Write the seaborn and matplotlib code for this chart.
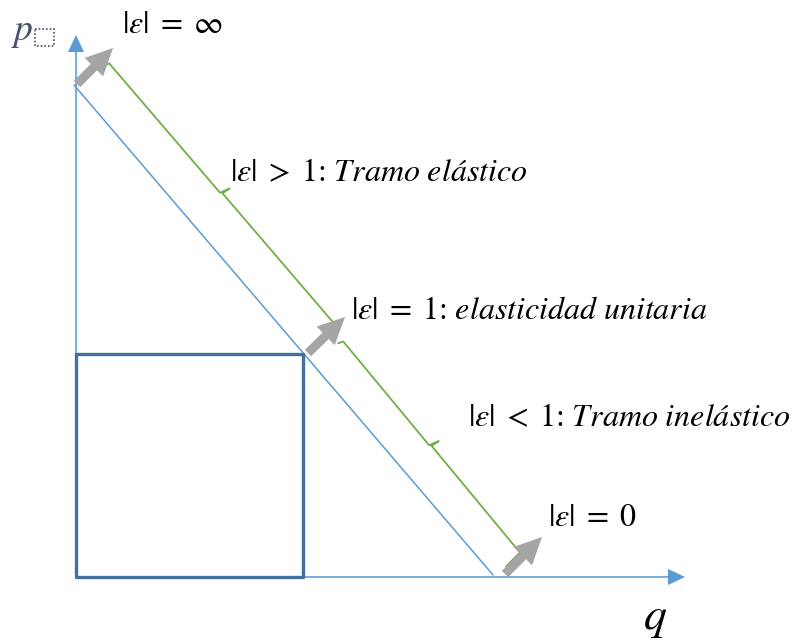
import numpy as np
import pandas as pd
import matplotlib
matplotlib.use("Agg")
import matplotlib.pyplot as plt
from matplotlib.patches import FancyArrow, Rectangle
import seaborn as sns

sns.set_theme(style="white")
plt.rcParams['mathtext.fontset'] = 'stix'
plt.rcParams['font.family'] = ['STIXGeneral', 'DejaVu Serif']

# ---- diagram data (canvas units, y grows downward) ----
origin = (76, 577)
y_axis_top = (76, 35)
x_axis_end = (685, 577)
demand_x = [74, 493]
demand_y = [85, 575]
box_x = [76, 303, 303, 76, 76]
box_y = [354, 354, 577, 577, 354]
brace_upper = [(108, 62), (336, 328)]
brace_lower = [(342, 340), (520, 555)]
arrow_tails = [(77, 84), (308, 353), (505, 574)]
arrow_tips = [(113, 48), (345, 317), (542, 537)]
labels = [
    r"|$\varepsilon$|$\;=\;\infty$",
    r"|$\varepsilon$|$\;>\;$1: $\mathit{Tramo\ elástico}$",
    r"|$\varepsilon$|$\;=\;$1: $\mathit{elasticidad\ unitaria}$",
    r"|$\varepsilon$|$\;<\;$1: $\mathit{Tramo\ inelástico}$",
    r"|$\varepsilon$|$\;=\;$0",
]
label_pos = [(122, 33), (230, 181), (351, 319), (468, 426), (548, 526)]

AXIS = "#5B9BD5"
GREEN = "#70AD47"
BOX = "#41719C"
GRAY = "#A5A5A5"

fig = plt.figure(figsize=(7.94, 6.43), dpi=100)
ax = fig.add_axes([0, 0, 1, 1])
ax.set_xlim(0, 794)
ax.set_ylim(643, 0)
ax.axis("off")

# axes with arrowheads
for start, end in [(origin, y_axis_top), (origin, x_axis_end)]:
    ax.add_patch(FancyArrow(start[0], start[1], end[0] - start[0], end[1] - start[1],
                            width=1.6, head_width=16, head_length=17,
                            length_includes_head=True, color=AXIS, lw=0, zorder=2))

# demand line
sns.lineplot(x=demand_x, y=demand_y, sort=False, estimator=None, color=AXIS, lw=1.1, ax=ax)

# rectangle
sns.lineplot(x=box_x, y=box_y, sort=False, estimator=None, color=BOX, lw=2.4, ax=ax)


def brace_points(A, B, tick=10, hook=5, end_hook=5):
    A = np.array(A, float)
    B = np.array(B, float)
    u = (B - A) / np.linalg.norm(B - A)
    n = np.array([-u[1], u[0]])
    if n[0] < 0:
        n = -n  # outward: upper-right
    M = (A + B) / 2
    pts = [A - n * hook, A + u * 2, M - u * 3, M + n * tick,
           M - u * 1 + n * 1.5, M + u * 3 + n * 1.5, B - u * 2 + n * 1.5, B - n * end_hook]
    pts = np.array(pts)
    return pts[:, 0], pts[:, 1]


for (A, B), eh in zip([brace_upper, brace_lower], [5, 18]):
    bx, by = brace_points(A, B, end_hook=eh)
    sns.lineplot(x=bx, y=by, sort=False, estimator=None, color=GREEN, lw=1.3, ax=ax)

# fat gray arrows
for (tx, ty), (hx, hy) in zip(arrow_tails, arrow_tips):
    ax.add_patch(FancyArrow(tx, ty, hx - tx, hy - ty, width=9, head_width=26,
                            head_length=27, length_includes_head=True,
                            color=GRAY, lw=0, zorder=5))

for txt, (x, y) in zip(labels, label_pos):
    ax.text(x, y, txt, fontsize=23, color="black", ha="left", va="baseline")

# axis labels
ax.text(11, 40, r"$p$", fontsize=27, color="#44546A", ha="left", va="baseline")
ax.add_patch(Rectangle((35, 29), 19, 17, fill=False, ls=(0, (1, 1.2)),
                       ec="#44546A", lw=1.2))
ax.text(643, 629, r"$q$", fontsize=33, color="black", ha="left", va="baseline")

fig.savefig("out.png", dpi=100)
